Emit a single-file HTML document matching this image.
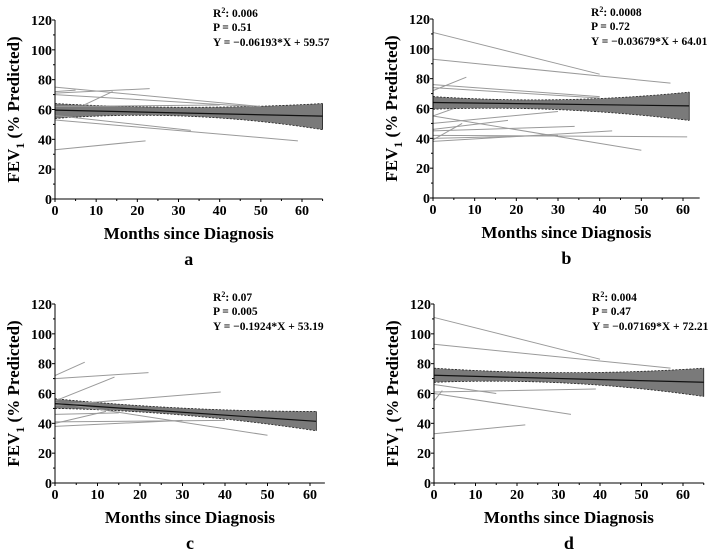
<!DOCTYPE html>
<html><head><meta charset="utf-8"><style>
html,body{margin:0;padding:0;background:#fff;}
svg{display:block;font-family:"Liberation Serif",serif;}
</style></head><body>
<svg id="c" width="715" height="555" viewBox="0 0 715 555" xmlns="http://www.w3.org/2000/svg"></svg>
<script>
const panelLetters = ["a","b","c","d"];
const statsR2 = ["0.006","0.0008","0.07","0.004"];
const statsP = ["0.51","0.72","0.005","0.47"];
const slopes = [-0.06193,-0.03679,-0.1924,-0.07169];
const intercepts = [59.57,64.01,53.19,72.21];
const fitEnd = [65,61.5,61.5,65];
const bandX = [[0,32,65],[0,32,61.5],[0,28,61.5],[0,35,65]];
const bandUpper = [[64,61.5,64],[68,66,71],[56.5,50.5,48],[77,74,77]];
const bandLower = [[54,55.5,46.5],[59.5,59,52],[50,46,35],[67.5,66.5,58]];
const yTicks = [0,20,40,60,80,100,120];
const xTicks = [0,10,20,30,40,50,60];
// individual subject lines: [x1,y1,x2,y2]
const subjA = [[0,75,50,62],[0,71,23,74],[0,72,5,73],[7,63,14,72],[0,70,48,62],[0,53,59,39],[0,56,33,46],[0,33,22,39],[0,62,40,63]];
const subjB = [[0,111,40,83],[0,93,57,77],[0,76,40,68],[0,74,40,67],[0,72,8,81],[0,55,50,32],[0,55,5,60],[0,50,30,58],[0,46,18,52],[0,45,34,48],[0,42,61,41],[0,39,7,50],[0,38,43,45],[0,40,30,42]];
const subjC = [[0,72,7,81],[0,70,22,74],[0,55,14,71],[0,52,39,61],[0,46,15,47],[0,40,12,48],[0,41,40,42],[0,38,30,42],[0,54,50,32]];
const subjD = [[0,111,40,83],[0,93,57,77],[0,66,15,60],[0,61,39,63],[0,60,33,46],[0,55,2,62],[0,33,22,39]];
const subjects = [subjA,subjB,subjC,subjD];

const geo = [
 {x0:55,x60:302,xMax:65,y0:199,y120:20},
 {x0:433,x60:683,xMax:64,y0:198,y120:19},
 {x0:55,x60:310,xMax:63.5,y0:483,y120:304},
 {x0:434,x60:683,xMax:65,y0:483,y120:304}
];
const NS="http://www.w3.org/2000/svg";
const svg=document.getElementById('c');
function mk(t,a,p){const e=document.createElementNS(NS,t);for(const k in a)e.setAttribute(k,a[k]);(p||svg).appendChild(e);return e;}

geo.forEach((g,i)=>{
  const G=mk('g',{});
  
  
  const sx=v=>g.x0+(g.x60-g.x0)*v/60;
  const sy=v=>g.y0-(g.y0-g.y120)*v/120;
  // band
  const bx=bandX[i],bu=bandUpper[i],bl=bandLower[i];
  function curve(xs,ys){ // quadratic through 3 points via sampling
    const pts=[];
    for(let k=0;k<=40;k++){const x=xs[0]+(xs[2]-xs[0])*k/40;
      const L0=((x-xs[1])*(x-xs[2]))/((xs[0]-xs[1])*(xs[0]-xs[2]));
      const L1=((x-xs[0])*(x-xs[2]))/((xs[1]-xs[0])*(xs[1]-xs[2]));
      const L2=((x-xs[0])*(x-xs[1]))/((xs[2]-xs[0])*(xs[2]-xs[1]));
      pts.push([sx(x),sy(ys[0]*L0+ys[1]*L1+ys[2]*L2)]);}
    return pts;}
  const up=curve(bx,bu),lo=curve(bx,bl);
  const poly=up.concat(lo.slice().reverse()).map(p=>p[0].toFixed(1)+','+p[1].toFixed(1)).join(' ');
  const band=mk('polygon',{points:poly,fill:'#7a7a7a',stroke:'none'},G);
  
  
  const bu1=mk('polyline',{points:up.map(p=>p.join(',')).join(' '),fill:'none',stroke:'#222','stroke-width':0.8,'stroke-dasharray':'2,1.5'},G);
  
  
  const bl1=mk('polyline',{points:lo.map(p=>p.join(',')).join(' '),fill:'none',stroke:'#222','stroke-width':0.8,'stroke-dasharray':'2,1.5'},G);
  
  
  mk('line',{x1:sx(bx[2]),y1:sy(bu[2]),x2:sx(bx[2]),y2:sy(bl[2]),stroke:'#222','stroke-width':0.8},G);
  // subjects
  subjects[i].forEach(s=>{
    const l=mk('line',{x1:sx(s[0]),y1:sy(s[1]),x2:sx(s[2]),y2:sy(s[3]),stroke:'#9a9a9a','stroke-width':1},G);
    
    
  });
  // fit
  const f=mk('line',{x1:sx(0),y1:sy(intercepts[i]),x2:sx(fitEnd[i]),y2:sy(intercepts[i]+slopes[i]*fitEnd[i]),stroke:'#111','stroke-width':1.2},G);
  
  
  // axes
  const ya=mk('line',{x1:g.x0,y1:g.y0,x2:g.x0,y2:g.y120,stroke:'#000','stroke-width':1},G);
  
  
  const xa=mk('line',{x1:g.x0,y1:g.y0,x2:sx(g.xMax),y2:g.y0,stroke:'#000','stroke-width':1},G);
  
  
  for(let v=0;v<=120;v+=10) mk('line',{x1:g.x0-(v%20?2:3),y1:sy(v),x2:g.x0,y2:sy(v),stroke:'#000'},G);
  for(let v=0;v<=g.xMax;v+=5) mk('line',{x1:sx(v),y1:g.y0,x2:sx(v),y2:g.y0+(v%10?2:3),stroke:'#000'},G);
  yTicks.forEach(v=>{const t=mk('text',{x:g.x0-3,y:sy(v)+5,'text-anchor':'end','font-size':14,'font-weight':'bold'},G);t.textContent=v;
    });
  xTicks.forEach(v=>{const t=mk('text',{x:sx(v),y:g.y0+16,'text-anchor':'middle','font-size':14,'font-weight':'bold'},G);t.textContent=v;
    });
  const cx=(g.x0+sx(g.xMax))/2;
  const xt=mk('text',{x:cx,y:g.y0+40,'text-anchor':'middle','font-size':17,'font-weight':'bold'},G);
  xt.textContent='Months since Diagnosis';
  
  const yt=mk('text',{x:0,y:0,transform:`translate(${g.x0-36},${(g.y0+g.y120)/2}) rotate(-90)`,'text-anchor':'middle','font-size':17,'font-weight':'bold'},G);
  yt.innerHTML='FEV<tspan font-size="12" dy="5">1</tspan><tspan dy="-5"> (% Predicted)</tspan>';
  
  const lt=mk('text',{x:cx,y:g.y0+66,'text-anchor':'middle','font-size':18,'font-weight':'bold'},G);
  lt.textContent=panelLetters[i];
  
  const tx=g.x0+158, ty=g.y120-3;
  const st=mk('text',{x:tx,y:ty,'font-size':11.5,'font-weight':'bold'},G);
  st.innerHTML='R<tspan font-size="8" dy="-4">2</tspan><tspan dy="4">: '+statsR2[i]+'</tspan>';
  
  const sp=mk('text',{x:tx,y:ty+14,'font-size':11.5,'font-weight':'bold'},G);
  sp.textContent='P = '+statsP[i];
  
  const se=mk('text',{x:tx,y:ty+29,'font-size':11.5,'font-weight':'bold'},G);
  se.textContent='Y = \u2212'+Math.abs(slopes[i])+'*X + '+intercepts[i].toFixed(2);
  
});
</script>
</body></html>
